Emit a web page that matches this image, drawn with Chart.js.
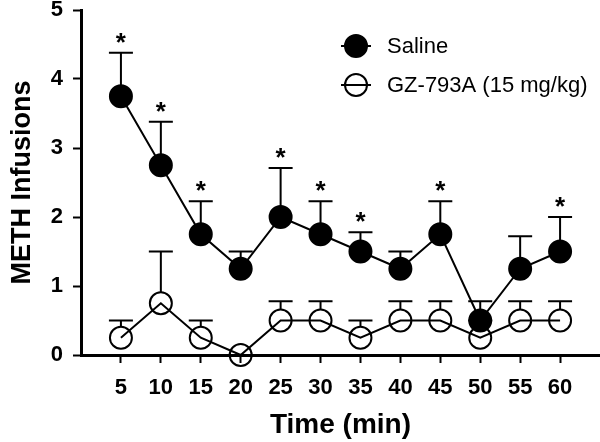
<!DOCTYPE html>
<html>
<head>
<meta charset="utf-8">
<script src="https://cdn.jsdelivr.net/npm/chart.js@4/dist/chart.umd.min.js"></script>
<style>
  html, body { margin: 0; padding: 0; background: #fff; }
  #wrap { width: 600px; height: 442px; }
</style>
</head>
<body>
<div id="wrap"><canvas id="c" width="600" height="442"></canvas></div>
<script>
// time points (min)
const times = [5, 10, 15, 20, 25, 30, 35, 40, 45, 50, 55, 60];
// mean METH infusions
const saline = [3.75, 2.75, 1.75, 1.25, 2.0, 1.75, 1.5, 1.25, 1.75, 0.5, 1.25, 1.5];
const salineSem = [0.63, 0.63, 0.48, 0.25, 0.71, 0.48, 0.28, 0.25, 0.48, 0.28, 0.47, 0.5];
const gz = [0.25, 0.75, 0.25, 0, 0.5, 0.5, 0.25, 0.5, 0.5, 0.25, 0.5, 0.5];
const gzSem = [0.25, 0.75, 0.25, 0, 0.28, 0.28, 0.25, 0.28, 0.28, 0.25, 0.28, 0.28];
// significant vs GZ-793A
const salineSig = [true, true, true, false, true, true, true, false, true, false, false, true];
const seriesNames = ['Saline', 'GZ-793A (15 mg/kg)'];

const FONT = "'Liberation Sans', Arial, sans-serif";
const R = 11;
const AREA_TOP = 10, AREA_RIGHT = 600;

const toPoints = (vals) => vals.map((v, i) => ({x: times[i], y: v}));

// chart.js keeps some room for the edge tick labels; the original plot runs to the edges
const fitArea = {
    id: 'fitArea',
    afterLayout(chart) {
        const ca = chart.chartArea, x = chart.scales.x, y = chart.scales.y;
        ca.top = AREA_TOP; ca.right = AREA_RIGHT;
        ca.width = ca.right - ca.left; ca.height = ca.bottom - ca.top;
        x.right = AREA_RIGHT; x.width = x.right - x.left;
        y.top = AREA_TOP; y.height = y.bottom - y.top;
        [x, y].forEach(s => { s.configure(); s._gridLineItems = null; s._labelItems = null; });
    }
};

const errorBars = {
    id: 'errorBars',
    afterDatasetsDraw(chart) {
        const ctx = chart.ctx;
        const xs = chart.scales.x, ys = chart.scales.y;
        const sets = [[saline, salineSem, salineSig], [gz, gzSem, null]];
        ctx.save();
        ctx.strokeStyle = '#000';
        ctx.lineWidth = 2;
        sets.forEach(([vals, sems, sig]) => {
            vals.forEach((v, i) => {
                if (!sems[i]) return;
                const px = xs.getPixelForValue(times[i]);
                const py = ys.getPixelForValue(v);
                const top = ys.getPixelForValue(v + sems[i]);
                ctx.beginPath();
                ctx.moveTo(px, py - R);
                ctx.lineTo(px, top);
                ctx.moveTo(px - 12, top);
                ctx.lineTo(px + 12, top);
                ctx.stroke();
                if (sig && sig[i]) {
                    ctx.fillStyle = '#000';
                    ctx.font = 'bold 26px ' + FONT;
                    ctx.textAlign = 'center';
                    ctx.textBaseline = 'alphabetic';
                    ctx.fillText('*', px, top - 2);
                }
            });
        });

        // legend
        const lx = 356, ly = [46, 85];
        ctx.font = '22px ' + FONT;
        ctx.textAlign = 'left';
        ctx.textBaseline = 'middle';
        seriesNames.forEach((name, k) => {
            ctx.beginPath();
            ctx.moveTo(lx - 15, ly[k]);
            ctx.lineTo(lx + 15, ly[k]);
            ctx.stroke();
            ctx.beginPath();
            ctx.arc(lx, ly[k], R, 0, Math.PI * 2);
            if (k === 0) { ctx.fillStyle = '#000'; ctx.fill(); }
            ctx.stroke();
            ctx.fillStyle = '#000';
            ctx.fillText(name, 387, ly[k] + 1);
        });
        ctx.restore();
    }
};

new Chart(document.getElementById('c').getContext('2d'), {
    type: 'line',
    data: {
        datasets: [{
            label: seriesNames[0],
            data: toPoints(saline),
            borderColor: '#000',
            backgroundColor: '#000',
            borderWidth: 2,
            pointRadius: R,
            pointBorderWidth: 2,
            pointBackgroundColor: '#000',
            pointBorderColor: '#000',
            clip: false
        }, {
            label: seriesNames[1],
            data: toPoints(gz),
            borderColor: '#000',
            backgroundColor: 'transparent',
            borderWidth: 2,
            pointRadius: R,
            pointBorderWidth: 2,
            pointBackgroundColor: 'transparent',
            pointBorderColor: '#000',
            clip: false
        }]
    },
    options: {
        responsive: false,
        animation: false,
        layout: {padding: {top: 10, right: 0, left: 0, bottom: 0}},
        plugins: {legend: {display: false}, tooltip: {enabled: false}},
        elements: {line: {tension: 0}},
        scales: {
            x: {
                type: 'linear',
                min: 0, max: 65,
                afterBuildTicks: s => { s.ticks = times.map(t => ({value: t})); },
                afterFit: s => { s.height = 87; },
                grid: {drawOnChartArea: false, drawTicks: true, tickLength: 8, tickWidth: 2, tickColor: '#000'},
                border: {display: true, color: '#000', width: 3},
                ticks: {color: '#000', padding: 12, font: {family: FONT, size: 22, weight: 'bold'}, maxRotation: 0, autoSkip: false},
                title: {display: true, text: 'Time (min)', color: '#000', padding: {top: 0, bottom: 0}, font: {family: FONT, size: 28, weight: 'bold'}}
            },
            y: {
                min: 0, max: 5,
                ticks: {stepSize: 1, color: '#000', padding: 10, font: {family: FONT, size: 22, weight: 'bold'}},
                afterFit: s => { s.width = 81; },
                grid: {drawOnChartArea: false, drawTicks: true, tickLength: 8, tickWidth: 2, tickColor: '#000'},
                border: {display: true, color: '#000', width: 3},
                title: {display: true, text: 'METH Infusions', color: '#000', padding: {top: 6, bottom: 0}, font: {family: FONT, size: 27, weight: 'bold'}}
            }
        }
    },
    plugins: [fitArea, errorBars]
});
</script>
</body>
</html>
